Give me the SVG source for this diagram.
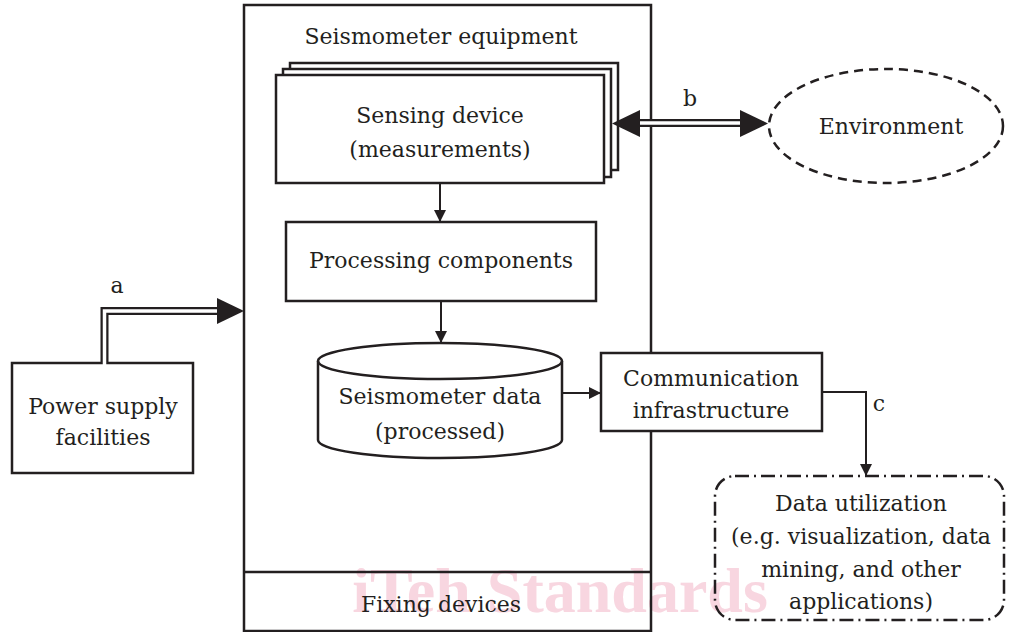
<svg xmlns="http://www.w3.org/2000/svg" width="1014" height="632" viewBox="0 0 1014 632">
<defs>
<style>
text{font-family:"DejaVu Serif","Liberation Serif",serif;font-size:22px;fill:#231f20;text-anchor:middle}
.box{fill:#fff;stroke:#231f20;stroke-width:2.5}
.nofill{fill:none;stroke:#231f20;stroke-width:2.5}
.line{fill:none;stroke:#231f20;stroke-width:2}
.dbl{fill:none;stroke:#231f20;stroke-width:8}
.dblw{fill:none;stroke:#fff;stroke-width:3.5}
.head{fill:#231f20}
.wm{font-family:"Liberation Serif",serif;font-weight:bold;font-size:64px;fill:#f6c9d6;opacity:0.75}
</style>
<marker id="arr" viewBox="0 0 12 12" refX="12" refY="6" markerWidth="12" markerHeight="12" markerUnits="userSpaceOnUse" orient="auto">
<path d="M0,0 L12,6 L0,12 Z" fill="#231f20"/>
</marker>
</defs>
<rect width="1014" height="632" fill="#fff"/>
<text class="wm" x="560" y="612">iTeh Standards</text>

<g id="frame">
<rect class="nofill" x="244" y="5" width="407" height="626"/>
<line class="nofill" x1="244" y1="572" x2="651" y2="572"/>
<text x="441" y="44">Seismometer equipment</text>
</g>
<g id="fixing">
<text x="441" y="612">Fixing devices</text>
</g>

<g id="sensing">
<rect class="box" x="290" y="63" width="328" height="107"/>
<rect class="box" x="283" y="69" width="328" height="108"/>
<rect class="box" x="276" y="75" width="328" height="108"/>
<text x="440" y="123">Sensing device</text>
<text x="440" y="157">(measurements)</text>
</g>

<g id="processing">
<rect class="box" x="286" y="222" width="310" height="79"/>
<text x="441" y="268">Processing components</text>
</g>

<g id="data">
<path class="box" d="M318,361 L318,440 A122,18 0 0 0 562,440 L562,361 A122,18 0 0 0 318,361 Z"/>
<path class="nofill" d="M318,361 A122,18 0 0 0 562,361"/>
<text x="440" y="404">Seismometer data</text>
<text x="440" y="439">(processed)</text>
</g>

<g id="comm">
<rect class="box" x="601" y="353" width="221" height="78"/>
<text x="711" y="386">Communication</text>
<text x="711" y="418">infrastructure</text>
</g>

<g id="environment">
<ellipse cx="886" cy="126" rx="117" ry="57" fill="none" stroke="#231f20" stroke-width="2.5" stroke-dasharray="9,6"/>
<text x="891" y="134">Environment</text>
</g>

<g id="power">
<rect class="box" x="12" y="363" width="181" height="110"/>
<text x="103" y="414">Power supply</text>
<text x="103" y="445">facilities</text>
</g>

<g id="utilization">
<rect x="715" y="476" width="289" height="144" rx="20" ry="20" fill="none" stroke="#231f20" stroke-width="2.5" stroke-dasharray="14,5,2,5"/>
<text x="861" y="511">Data utilization</text>
<text x="861" y="544">(e.g. visualization, data</text>
<text x="861" y="577">mining, and other</text>
<text x="861" y="609">applications)</text>
</g>

<g id="connectors">
<line class="line" x1="440" y1="183" x2="440" y2="222" marker-end="url(#arr)"/>
<line class="line" x1="441" y1="301" x2="441" y2="343" marker-end="url(#arr)"/>
<line class="line" x1="562" y1="393" x2="601" y2="393" marker-end="url(#arr)"/>
<polyline class="line" points="822,392 866,392 866,476" marker-end="url(#arr)"/>
<polyline class="dbl" points="104.5,363 104.5,311 220,311"/>
<polyline class="dblw" points="104.5,366 104.5,311 221,311"/>
<path class="head" d="M217,298 L244,311 L217,324 Z"/>
<text x="117" y="293">a</text>
<line class="dbl" x1="638" y1="123" x2="742" y2="123"/>
<line class="dblw" x1="636" y1="123" x2="744" y2="123"/>
<path class="head" d="M640,110 L612,123.5 L640,137 Z"/>
<path class="head" d="M740,110 L768,123.5 L740,137 Z"/>
<text x="690" y="106">b</text>
<text x="879" y="411">c</text>
</g>
</svg>
